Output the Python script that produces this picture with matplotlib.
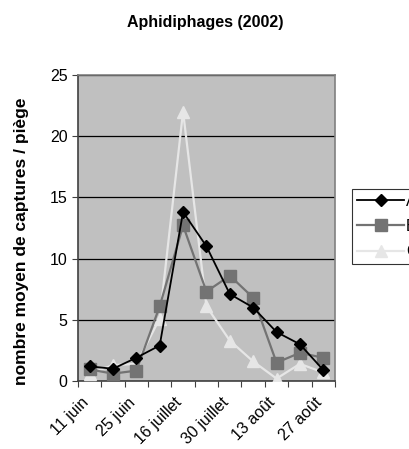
import numpy as np
import matplotlib
matplotlib.use("Agg")
from matplotlib import pyplot as plt
from matplotlib import transforms

plt.rcParams["font.family"] = ["Liberation Sans", "DejaVu Sans"]

# weekly sampling dates (only every second one is labelled)
dates = ["11 juin", "18 juin", "25 juin", "2 juillet", "16 juillet", "23 juillet",
         "30 juillet", "6 août", "13 août", "20 août", "27 août"]
tick_labels = ["11 juin", "25 juin", "16 juillet", "30 juillet", "13 août", "27 août"]

a_vals = [1.2, 1.0, 1.9, 2.9, 13.8, 11.0, 7.1, 6.0, 4.0, 3.0, 0.9]
b_vals = [0.95, 0.6, 0.85, 6.1, 12.7, 7.3, 8.6, 6.8, 1.5, 2.3, 1.9]
c_vals = [0.6, 1.3, 1.4, 5.1, 22.0, 6.1, 3.3, 1.6, 0.2, 1.4, 0.7]

fig = plt.figure(figsize=(4.10, 4.49), dpi=100)
ax = fig.add_axes([0.190, 0.1514, 0.627, 0.682])
ax.set_facecolor("#c0c0c0")

x = np.arange(len(dates))
ax.plot(x, a_vals, color="black", marker="D", markersize=6, lw=1.3, label="A", zorder=5)
ax.plot(x, b_vals, color="#737373", marker="s", markersize=8, lw=1.6, label="B", zorder=4)
ax.plot(x, c_vals, color="#e6e6e6", marker="^", markersize=8, lw=1.6, label="C", zorder=3)

ax.set_xlim(-0.5, len(dates) - 0.5)
ax.set_ylim(0, 25)
ax.set_yticks([0, 5, 10, 15, 20, 25])
ax.yaxis.grid(True, color="black", lw=0.9)
ax.set_axisbelow(True)

# ticks between categories, labels on every second category
ax.set_xticks(np.arange(-0.5, len(dates), 1.0))
ax.set_xticklabels([])
ax.set_xticks(x[::2], minor=True)
ax.set_xticklabels(tick_labels, minor=True, rotation=45, ha="right",
                   rotation_mode="anchor", fontsize=11.5)
ax.tick_params(axis="x", which="minor", length=0, pad=10)
ax.tick_params(axis="x", which="major", length=4, direction="out", color="#404040")
ax.tick_params(axis="y", length=4, direction="out", labelsize=11.5, color="#404040")
shift = transforms.ScaledTranslation(-0.09, 0.0, fig.dpi_scale_trans)
for lbl in ax.get_xticklabels(minor=True):
    lbl.set_transform(lbl.get_transform() + shift)

for side in ["top", "right"]:
    ax.spines[side].set_color("#808080")
    ax.spines[side].set_linewidth(1.2)
for side in ["left", "bottom"]:
    ax.spines[side].set_color("#404040")
    ax.spines[side].set_linewidth(1.2)

fig.text(0.5, 0.951, "Aphidiphages (2002)", ha="center", va="center",
         fontsize=11.5, fontweight="bold")
fig.text(0.052, 0.463, "nombre moyen de captures / piège", rotation=90,
         ha="center", va="center", fontsize=12.5, fontweight="bold")

leg = fig.legend(loc="upper left", bbox_to_anchor=(0.858, 0.579), fontsize=11.5,
                 frameon=True, fancybox=False, borderpad=0.3, handlelength=3.0,
                 handletextpad=0.1, labelspacing=0.64, borderaxespad=0)
leg.get_frame().set_edgecolor("black")
leg.get_frame().set_linewidth(0.8)
leg.get_frame().set_facecolor("white")

fig.savefig("out.png", dpi=100)
